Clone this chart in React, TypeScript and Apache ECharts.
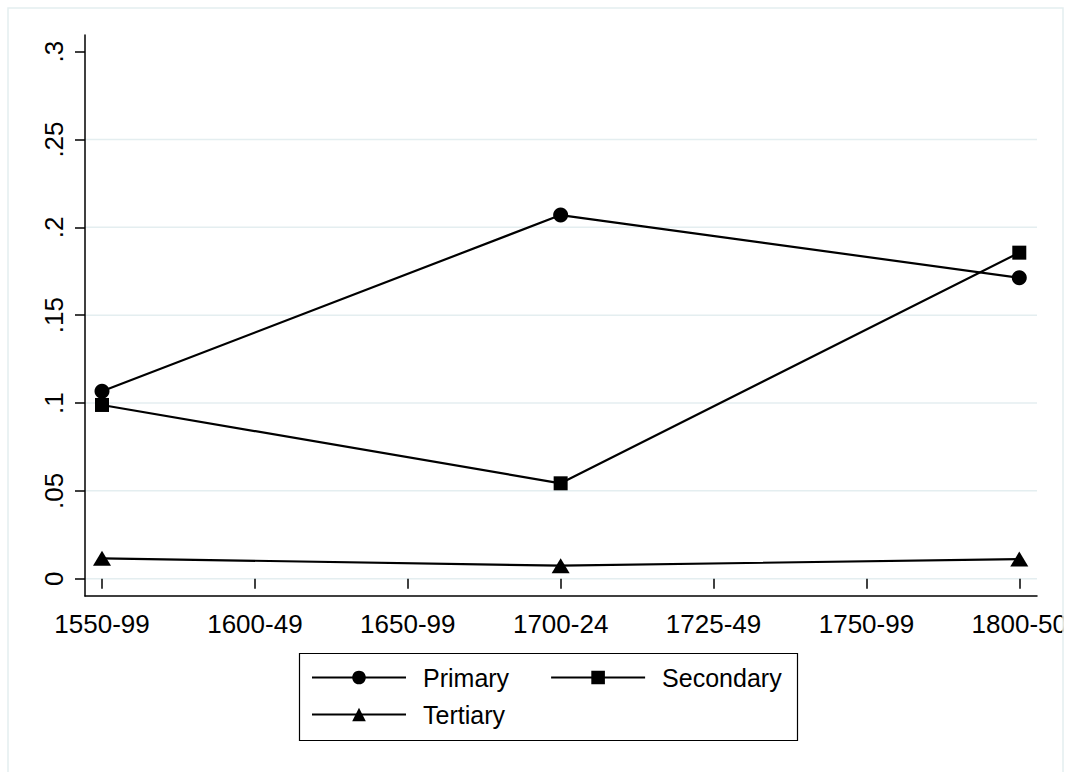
import { useEffect, useRef } from 'react';
import * as echarts from 'echarts';

const categories = ['1550-99', '1600-49', '1650-99', '1700-24', '1725-49', '1750-99', '1800-50'];
const primary = [0.1067, null, null, 0.207, null, null, 0.1713];
const secondary = [0.0989, null, null, 0.0543, null, null, 0.1856];
const tertiary = [0.0116, null, null, 0.0074, null, null, 0.0112];
const gridValues = [0, 0.05, 0.1, 0.15, 0.2, 0.25];

const FONT = '"Liberation Sans", Arial, Helvetica, sans-serif';
const GRID_COLOR = '#e4eef0';
const AXIS = { color: '#000', width: 1.5 };

export default function App() {
  const ref = useRef<HTMLDivElement>(null);
  useEffect(() => {
    if (!ref.current) return;
    const chart = echarts.init(ref.current, null, { renderer: 'svg' });
    const fmt = (v: number) => {
      const n = parseFloat(Number(v).toFixed(2));
      return n === 0 ? '0' : String(n).replace(/^0/, '');
    };
    const legendCommon = {
      orient: 'horizontal',
      left: 311,
      itemWidth: 94,
      itemHeight: 17,
      itemGap: 41,
      padding: 0,
      selectedMode: false,
      z: 10,
      textStyle: { fontSize: 25, color: '#000', fontFamily: FONT, padding: [0, 0, 0, 12] },
    };
    chart.setOption({
      animation: false,
      backgroundColor: '#fff',
      textStyle: { fontFamily: FONT },
      grid: [
        { left: 102, right: 50, top: 51.7, bottom: 193.3 },
        { left: 85, right: 33, top: 35, bottom: 176 },
      ],
      xAxis: [
        {
          type: 'category', gridIndex: 0, data: categories, boundaryGap: false, offset: 17,
          axisLine: { show: false },
          axisTick: { show: true, length: 10, alignWithLabel: true, lineStyle: AXIS },
          axisLabel: { fontSize: 26, color: '#000', margin: 15, interval: 0, fontFamily: FONT },
          splitLine: { show: false },
        },
        {
          type: 'value', gridIndex: 1, min: 0, max: 1,
          axisLine: { show: true, onZero: false, lineStyle: AXIS },
          axisTick: { show: false }, axisLabel: { show: false }, splitLine: { show: false },
        },
      ],
      yAxis: [
        {
          type: 'value', gridIndex: 0, min: 0, max: 0.3, interval: 0.05, offset: 17,
          axisLine: { show: false },
          axisTick: { show: true, length: 10, lineStyle: AXIS },
          axisLabel: { rotate: 90, fontSize: 26, color: '#000', margin: 18, fontFamily: FONT, formatter: fmt },
          splitLine: { show: false },
        },
        {
          type: 'value', gridIndex: 1, min: 0, max: 1,
          axisLine: { show: true, onZero: false, lineStyle: AXIS },
          axisTick: { show: false }, axisLabel: { show: false }, splitLine: { show: false },
        },
      ],
      legend: [
        { ...legendCommon, data: ['Primary', 'Secondary'], top: 665 },
        { ...legendCommon, data: ['Tertiary'], top: 702 },
      ],
      series: [
        {
          name: 'Primary', type: 'line', xAxisIndex: 0, yAxisIndex: 0, data: primary, connectNulls: true,
          symbol: 'circle', symbolSize: 15, color: '#000',
          lineStyle: { color: '#000', width: 2.2 }, itemStyle: { color: '#000' },
        },
        {
          name: 'Secondary', type: 'line', xAxisIndex: 0, yAxisIndex: 0, data: secondary, connectNulls: true,
          symbol: 'rect', symbolSize: 14, color: '#000',
          lineStyle: { color: '#000', width: 2.2 }, itemStyle: { color: '#000' },
        },
        {
          name: 'Tertiary', type: 'line', xAxisIndex: 0, yAxisIndex: 0, data: tertiary, connectNulls: true,
          symbol: 'triangle', symbolSize: [18, 15], color: '#000',
          lineStyle: { color: '#000', width: 2.2 }, itemStyle: { color: '#000' },
        },
      ],
    });

    const gridLines = gridValues.map((v) => {
      const y = chart.convertToPixel({ yAxisIndex: 0 }, v) as number;
      return {
        type: 'line', silent: true, z: 0,
        shape: { x1: 85, y1: y, x2: 1037, y2: y },
        style: { stroke: GRID_COLOR, lineWidth: 1.5 },
      };
    });
    chart.setOption({
      graphic: {
        elements: [
          ...gridLines,
          {
            type: 'rect', silent: true, z: 1,
            shape: { x: 299.5, y: 653.5, width: 498, height: 87 },
            style: { fill: '#fff', stroke: '#000', lineWidth: 1.2 },
          },
          {
            type: 'rect', silent: true, z: 100,
            shape: { x: 1063.5, y: 0, width: 10, height: 772 },
            style: { fill: '#fff' },
          },
          {
            type: 'rect', silent: true, z: 101,
            shape: { x: 8, y: 8, width: 1055, height: 800 },
            style: { fill: 'none', stroke: GRID_COLOR, lineWidth: 1.5 },
          },
        ],
      },
    });
    return () => chart.dispose();
  }, []);
  return (
    <div
      ref={ref}
      style={{ position: 'absolute', left: 0, top: 0, width: 1070, height: 772 }}
    />
  );
}
